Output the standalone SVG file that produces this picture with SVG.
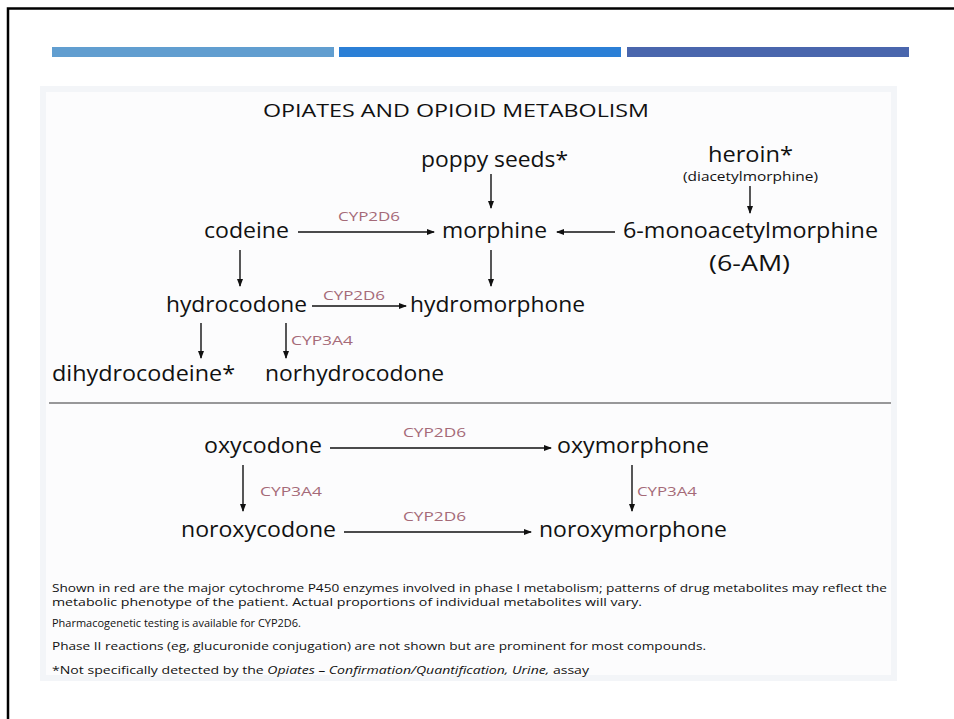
<svg xmlns="http://www.w3.org/2000/svg" width="954" height="719" viewBox="0 0 954 719">
<defs>
<marker id="ah" markerWidth="8" markerHeight="6" refX="7" refY="3" orient="auto" markerUnits="userSpaceOnUse">
<path d="M0,0 L8,3 L0,6 Z" fill="#111"/>
</marker>
<style>
.lbl{font-family:"Open Sans","Liberation Sans",sans-serif;font-size:21px;fill:#111}
.cyp{font-family:"Open Sans","Liberation Sans",sans-serif;font-size:13.5px;fill:#a56a78}
.sm{font-family:"Open Sans","Liberation Sans",sans-serif;font-size:12.5px;fill:#111}
.note{font-family:"Open Sans","Liberation Sans",sans-serif;font-size:11.5px;fill:#111}
.arr{stroke:#111;stroke-width:1.4;fill:none;marker-end:url(#ah)}
</style>
</defs>
<rect x="0" y="0" width="954" height="719" fill="#fff"/>
<path d="M8,719 V8.5 H954" fill="none" stroke="#000" stroke-width="2.5"/>
<rect x="52" y="47" width="282" height="10" fill="#619ed0"/>
<rect x="339" y="47" width="282" height="10" fill="#2b7fd6"/>
<rect x="627" y="47" width="282" height="10" fill="#4a66ad"/>
<rect x="40" y="86" width="857" height="595" fill="#f3f5f8"/>
<rect x="46" y="92" width="845" height="583" fill="#fcfcfd"/>
<line x1="49" y1="403" x2="891" y2="403" stroke="#777" stroke-width="1.3"/>
<text x="263" y="117" font-family="Open Sans, Liberation Sans, sans-serif" font-size="19" fill="#111" textLength="386" lengthAdjust="spacingAndGlyphs">OPIATES AND OPIOID METABOLISM</text>
<g id="connectors">
<line class="arr" x1="298" y1="232" x2="434" y2="232"/>
<line class="arr" x1="615" y1="232" x2="557" y2="232"/>
<line class="arr" x1="491" y1="174" x2="491" y2="208"/>
<line class="arr" x1="750" y1="186" x2="750" y2="213"/>
<line class="arr" x1="240" y1="250" x2="240" y2="286"/>
<line class="arr" x1="491" y1="250" x2="491" y2="286"/>
<line class="arr" x1="312" y1="306" x2="406" y2="306"/>
<line class="arr" x1="201" y1="323" x2="201" y2="358"/>
<line class="arr" x1="286" y1="323" x2="286" y2="358"/>
<line class="arr" x1="330" y1="448" x2="551" y2="448"/>
<line class="arr" x1="344" y1="532" x2="531" y2="532"/>
<line class="arr" x1="243" y1="465" x2="243" y2="511"/>
<line class="arr" x1="632" y1="465" x2="632" y2="511"/>
<text class="cyp" x="338" y="221" textLength="62" lengthAdjust="spacingAndGlyphs">CYP2D6</text>
<text class="cyp" x="323" y="300" textLength="62" lengthAdjust="spacingAndGlyphs">CYP2D6</text>
<text class="cyp" x="291" y="345" textLength="62" lengthAdjust="spacingAndGlyphs">CYP3A4</text>
<text class="cyp" x="403" y="437" textLength="63" lengthAdjust="spacingAndGlyphs">CYP2D6</text>
<text class="cyp" x="260" y="496" textLength="62" lengthAdjust="spacingAndGlyphs">CYP3A4</text>
<text class="cyp" x="637" y="496" textLength="60" lengthAdjust="spacingAndGlyphs">CYP3A4</text>
<text class="cyp" x="403" y="521" textLength="63" lengthAdjust="spacingAndGlyphs">CYP2D6</text>
</g>
<g id="poppy"><text class="lbl" x="421" y="167" textLength="147" lengthAdjust="spacingAndGlyphs">poppy seeds*</text></g>
<g id="heroin"><text class="lbl" x="708" y="162" font-size="20" textLength="85" lengthAdjust="spacingAndGlyphs">heroin*</text><text class="sm" x="683" y="181" textLength="135" lengthAdjust="spacingAndGlyphs">(diacetylmorphine)</text></g>
<g id="codeine"><text class="lbl" x="204" y="238" textLength="85" lengthAdjust="spacingAndGlyphs">codeine</text></g>
<g id="morphine"><text class="lbl" x="442" y="238" textLength="105" lengthAdjust="spacingAndGlyphs">morphine</text></g>
<g id="mam"><text class="lbl" x="623" y="238" textLength="255" lengthAdjust="spacingAndGlyphs">6-monoacetylmorphine</text><text class="lbl" x="709" y="271" textLength="81" lengthAdjust="spacingAndGlyphs">(6-AM)</text></g>
<g id="hydrocodone"><text class="lbl" x="166" y="312" textLength="141" lengthAdjust="spacingAndGlyphs">hydrocodone</text></g>
<g id="hydromorphone"><text class="lbl" x="410" y="312" textLength="175" lengthAdjust="spacingAndGlyphs">hydromorphone</text></g>
<g id="dihydrocodeine"><text class="lbl" x="52" y="381" textLength="183" lengthAdjust="spacingAndGlyphs">dihydrocodeine*</text></g>
<g id="norhydrocodone"><text class="lbl" x="265" y="381" textLength="179" lengthAdjust="spacingAndGlyphs">norhydrocodone</text></g>
<g id="oxycodone"><text class="lbl" x="204" y="453" textLength="118" lengthAdjust="spacingAndGlyphs">oxycodone</text></g>
<g id="oxymorphone"><text class="lbl" x="557" y="453" textLength="152" lengthAdjust="spacingAndGlyphs">oxymorphone</text></g>
<g id="noroxycodone"><text class="lbl" x="181" y="537" textLength="155" lengthAdjust="spacingAndGlyphs">noroxycodone</text></g>
<g id="noroxymorphone"><text class="lbl" x="539" y="537" textLength="188" lengthAdjust="spacingAndGlyphs">noroxymorphone</text></g>
<g id="notes">
<text class="note" x="52" y="592" textLength="835" lengthAdjust="spacingAndGlyphs">Shown in red are the major cytochrome P450 enzymes involved in phase I metabolism; patterns of drug metabolites may reflect the</text>
<text class="note" x="52" y="606" textLength="590" lengthAdjust="spacingAndGlyphs">metabolic phenotype of the patient.  Actual proportions of individual metabolites will vary.</text>
<text class="note" x="52" y="627" textLength="249" lengthAdjust="spacingAndGlyphs">Pharmacogenetic testing is available for CYP2D6.</text>
<text class="note" x="52" y="650" textLength="654" lengthAdjust="spacingAndGlyphs">Phase II reactions (eg, glucuronide conjugation) are not shown but are prominent for most compounds.</text>
<text class="note" x="52" y="674" textLength="537" lengthAdjust="spacingAndGlyphs">*Not specifically detected by the <tspan font-style="italic">Opiates – Confirmation/Quantification, Urine,</tspan> assay</text>
</g>
</svg>
